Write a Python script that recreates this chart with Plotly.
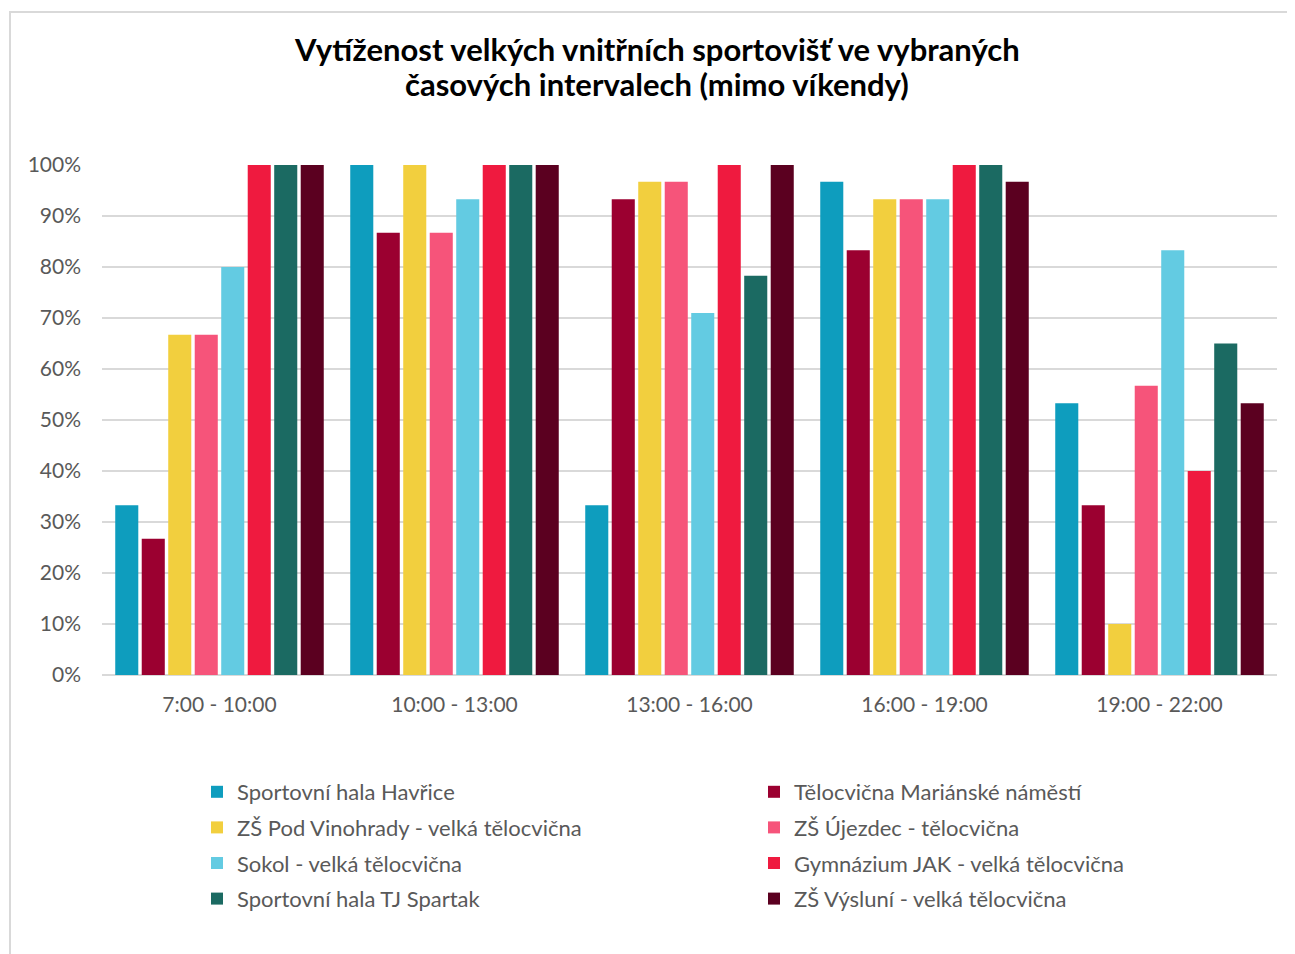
import plotly.graph_objects as go

categories = ["7:00 - 10:00", "10:00 - 13:00", "13:00 - 16:00", "16:00 - 19:00", "19:00 - 22:00"]
series_names = [
    "Sportovní hala Havřice",
    "Tělocvična Mariánské náměstí",
    "ZŠ Pod Vinohrady - velká tělocvična",
    "ZŠ Újezdec - tělocvična",
    "Sokol - velká tělocvična",
    "Gymnázium JAK - velká tělocvična",
    "Sportovní hala TJ Spartak",
    "ZŠ Výsluní - velká tělocvična",
]
title_lines = ["Vytíženost velkých vnitřních sportovišť ve vybraných",
               "časových intervalech (mimo víkendy)"]
havrice = [0.333, 1.0, 0.333, 0.967, 0.533]
marianske = [0.267, 0.867, 0.933, 0.833, 0.333]
vinohrady = [0.667, 1.0, 0.967, 0.933, 0.10]
ujezdec = [0.667, 0.867, 0.967, 0.933, 0.567]
sokol = [0.80, 0.933, 0.71, 0.933, 0.833]
gymnazium = [1.0, 1.0, 1.0, 1.0, 0.40]
spartak = [1.0, 1.0, 0.783, 1.0, 0.65]
vysluni = [1.0, 1.0, 1.0, 0.967, 0.533]
series_values = [havrice, marianske, vinohrady, ujezdec, sokol, gymnazium, spartak, vysluni]
colors = ["#0E9DBE", "#9B0030", "#F2CF3E", "#F6547A", "#63CBE2", "#EF1A3F", "#1B6A62", "#5B0020"]
y_ticks = [i / 10 for i in range(11)]
y_ticklabels = [f"{i * 10}%" for i in range(11)]

fig = go.Figure()
for i, (name, vals, col) in enumerate(zip(series_names, series_values, colors)):
    fig.add_trace(go.Bar(x=categories, y=vals, name=name, legendgroup=name,
                         legend="legend" if i % 2 == 0 else "legend2",
                         marker=dict(color=col, line=dict(width=0))))

# the page body adds an 8px offset; work in screen coords and convert
OFF = 8
W, H = 1295 - OFF, 954 - OFF
ml, mt = 102 - OFF, 165 - OFF
plot_right, plot_bottom = 1277 - OFF, 675 - OFF
mr, mb = W - plot_right, H - plot_bottom
pw, ph = plot_right - ml, plot_bottom - mt

def px_x(p):
    return (p - OFF - ml) / pw

def px_y(p):
    return (plot_bottom - (p - OFF)) / ph

legend_common = dict(orientation="v", xanchor="left", yanchor="top", traceorder="grouped",
                     font=dict(size=22, color="#595959"), itemwidth=30, tracegroupgap=4,
                     bgcolor="rgba(0,0,0,0)")

title_font = dict(size=31, color="#000000", family="Lato, 'Open Sans', sans-serif")

fig.update_layout(
    width=W, height=H,
    margin=dict(l=ml, r=mr, t=mt, b=mb, autoexpand=False),
    paper_bgcolor="white", plot_bgcolor="white",
    barmode="group", bargap=0.098, bargroupgap=0.13,
    font=dict(family="Lato, 'Open Sans', sans-serif", color="#595959", size=21),
    xaxis=dict(showgrid=False, showline=False, ticks="", tickfont=dict(size=21, color="#595959"),
               ticklabelstandoff=15),
    yaxis=dict(range=[0, 1], tickvals=y_ticks, ticktext=y_ticklabels, showgrid=True,
               gridcolor="#D9D9D9", gridwidth=2, zeroline=True, zerolinecolor="#D9D9D9", zerolinewidth=2,
               showline=False, ticks="", tickfont=dict(size=21, color="#595959"), ticklabelstandoff=20),
    legend=dict(x=px_x(197), y=px_y(771), **legend_common),
    legend2=dict(x=px_x(754), y=px_y(771), **legend_common),
    showlegend=True,
)
for line, yc in zip(title_lines, [49, 84]):
    fig.add_annotation(text=f"<b>{line}</b>", xref="paper", yref="paper",
                       x=px_x(657), y=px_y(yc), xanchor="center", yanchor="middle",
                       showarrow=False, font=title_font)
fig.add_shape(type="rect", xref="paper", yref="paper",
              x0=px_x(10), x1=px_x(1310), y0=px_y(970), y1=px_y(12),
              line=dict(color="#D9D9D9", width=2), fillcolor="rgba(0,0,0,0)", layer="below")

fig.write_html("out.html")
